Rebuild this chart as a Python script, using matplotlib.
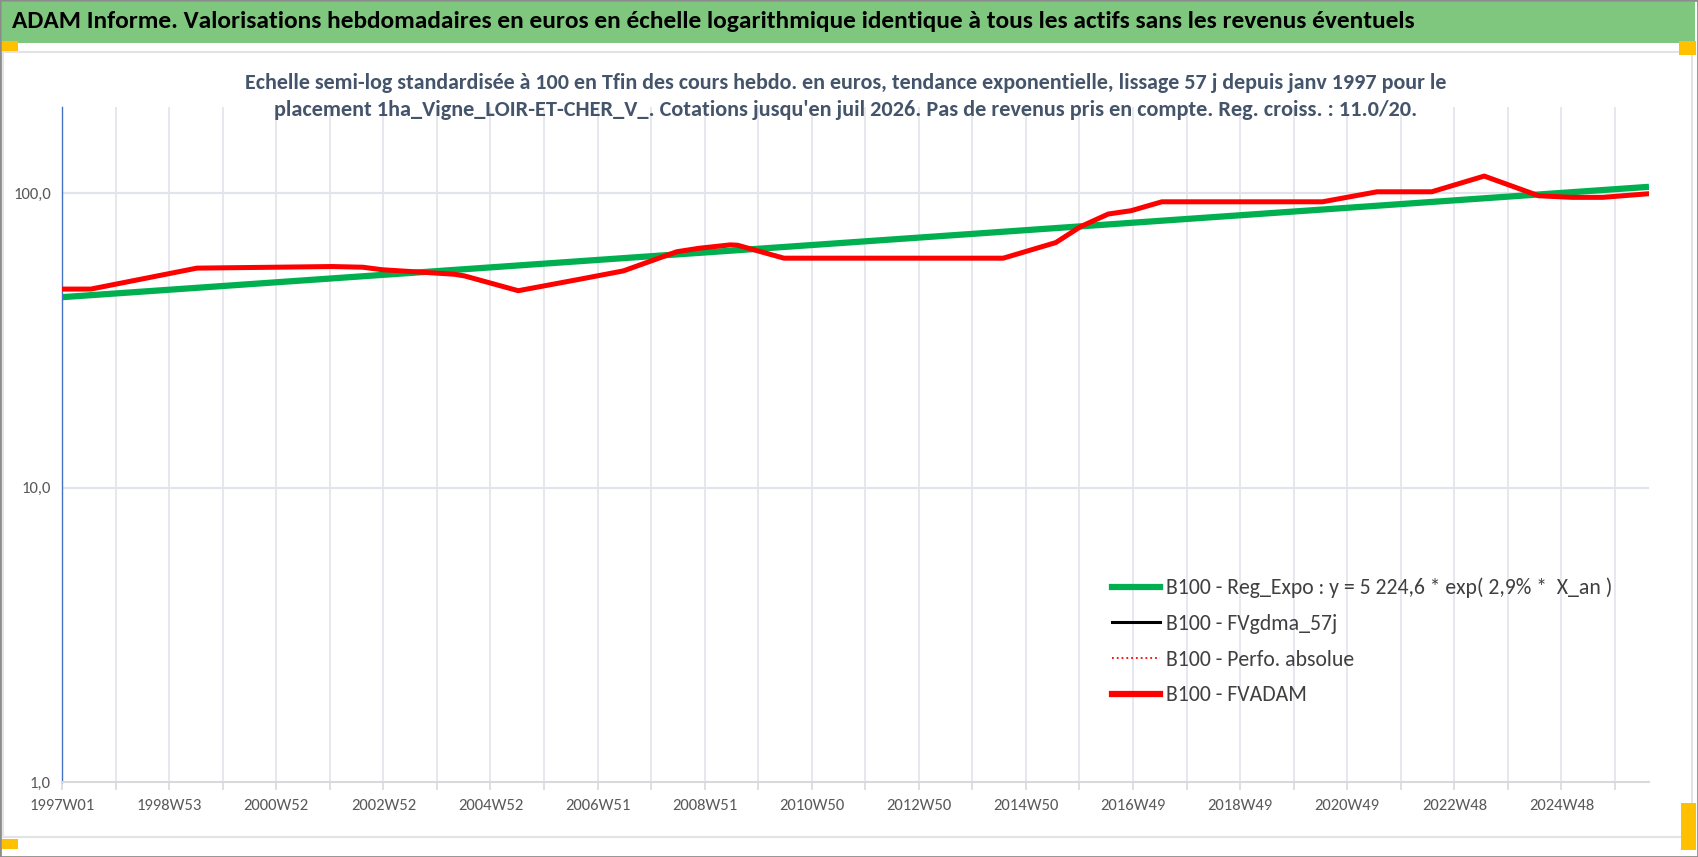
import matplotlib
matplotlib.use("Agg")
import matplotlib.pyplot as plt
from matplotlib import font_manager
from matplotlib.patches import Rectangle
from matplotlib.lines import Line2D
import numpy as np

# <---------------------------- donnees ---------------------------->
# abscisse = numero de semaine depuis 1997W01
semaines_adam = [0, 28, 131, 207, 262, 292, 311, 381, 391, 443, 503, 545, 597, 618,
                 649, 656, 701, 914, 965, 989, 1016, 1038, 1068, 1224, 1277, 1330,
                 1381, 1434, 1466, 1496, 1541]
valeurs_adam = [47.2, 47.2, 55.6, 56.0, 56.3, 56.0, 54.9, 53.0, 52.3, 46.6, 51.0, 54.4,
                63.2, 64.9, 66.7, 66.5, 60.1, 60.1, 67.9, 76.9, 84.9, 87.1, 93.4, 93.4,
                101.0, 101.0, 114.2, 97.9, 96.7, 96.7, 99.5]
semaines_reg = [0, 1541]
valeurs_reg = [44.3, 105.0]

etiquettes_x = ["1997W01", "1998W53", "2000W52", "2002W52", "2004W52", "2006W51",
                "2008W51", "2010W50", "2012W50", "2014W50", "2016W49", "2018W49",
                "2020W49", "2022W48", "2024W48"]
n_semaines = 1542

titre = ("ADAM Informe. Valorisations hebdomadaires en euros en échelle logarithmique "
         "identique à tous les actifs sans les revenus éventuels")
sous_titre_1 = ("Echelle semi-log standardisée à 100 en Tfin des cours hebdo. en euros, "
                "tendance exponentielle, lissage 57 j depuis janv 1997 pour le")
sous_titre_2 = ("placement 1ha_Vigne_LOIR-ET-CHER_V_. Cotations jusqu'en juil 2026. "
                "Pas de revenus pris en compte. Reg. croiss. : 11.0/20.")
noms_legende = ["B100 - Reg_Expo : y = 5 224,6 * exp( 2,9% *  X_an )",
                "B100 - FVgdma_57j",
                "B100 - Perfo. absolue",
                "B100 - FVADAM"]

# police proche de Calibri si presente, sinon DejaVu condensee
noms = {f.name for f in font_manager.fontManager.ttflist}
if "Carlito" in noms:
    plt.rcParams["font.family"] = ["Carlito", "DejaVu Sans"]
    k = 1.0
else:
    plt.rcParams["font.family"] = ["DejaVu Sans"]
    plt.rcParams["font.stretch"] = "condensed"
    k = 0.8

W, H = 1698, 857
fig = plt.figure(figsize=(W / 100, H / 100), dpi=100)
fig.patch.set_facecolor("white")


def fx(px):
    return px / W


def fy(py):
    return 1 - py / H


# <---------------------------- cadre, bandeau et poignees ---------------------------->
fig.patches.append(Rectangle((0, 0), 1, 1, transform=fig.transFigure,
                             fill=False, ec="#8c8c8c", lw=2))
fig.patches.append(Rectangle((fx(2), fy(43)), fx(1693), 41 / H, transform=fig.transFigure,
                             fc="#7fc77e", ec="none"))
fig.patches.append(Rectangle((fx(3), fy(837)), fx(1689), 785 / H, transform=fig.transFigure,
                             fill=False, ec="#e3e3e3", lw=1.5))
for (x0, y0, w, h) in [(2, 41, 16, 10), (1679, 41, 17, 14), (2, 839, 16, 10), (1681, 803, 15, 47)]:
    fig.patches.append(Rectangle((fx(x0), fy(y0 + h)), w / W, h / H,
                                 transform=fig.transFigure, fc="#ffc000", ec="none"))

fig.text(fx(12), fy(22), titre, fontsize=18.25 * k, fontweight="bold", color="black",
         ha="left", va="center")
fig.text(fx(846), fy(83), sous_titre_1, fontsize=15.8 * k, fontweight="bold",
         color="#44546a", ha="center", va="center")
fig.text(fx(846), fy(110), sous_titre_2, fontsize=16.0 * k, fontweight="bold",
         color="#44546a", ha="center", va="center")

# <---------------------------- zone de trace ---------------------------->
ax = fig.add_axes([fx(62), fy(782), fx(1649 - 62), (782 - 107) / H])
ax.set_yscale("log")
ax.set_ylim(1, 196)
ax.set_xlim(0, n_semaines - 1)

for x in range(0, n_semaines, 52):
    ax.axvline(x, color="#e1e4ea", lw=1.2, zorder=0)
for y in [10, 100]:
    ax.axhline(y, color="#e1e4ea", lw=1.6, zorder=0)

ax.plot(semaines_reg, valeurs_reg, color="#00b050", lw=4.5, solid_capstyle="butt", zorder=2)
ax.plot(semaines_adam, valeurs_adam, color="black", lw=1.5, zorder=3)
ax.plot(semaines_adam, valeurs_adam, color="red", lw=1.2, ls=":", zorder=3)
ax.plot(semaines_adam, valeurs_adam, color="#ff0000", lw=3.6, zorder=4,
        solid_joinstyle="round")

for s in ["top", "right"]:
    ax.spines[s].set_visible(False)
ax.spines["left"].set_color("#4472c4")
ax.spines["left"].set_linewidth(1)
ax.spines["bottom"].set_color("#d9d9d9")
ax.spines["bottom"].set_linewidth(1.5)

ax.set_yticks([1, 10, 100])
ax.set_yticklabels(["1,0", "10,0", "100,0"])
ax.yaxis.set_minor_locator(matplotlib.ticker.NullLocator())
ax.tick_params(axis="y", length=0, pad=8, labelsize=12 * k, labelcolor="#595959")

ax.set_xticks(np.arange(0, n_semaines, 52), minor=True)
ax.set_xticks(np.arange(0, 104 * len(etiquettes_x), 104))
ax.set_xticklabels(etiquettes_x)
ax.tick_params(axis="x", which="both", length=6, color="#d9d9d9", width=1.2,
               pad=6, labelsize=12 * k, labelcolor="#595959")

# <---------------------------- legende ---------------------------->
poignees = [Line2D([], [], color="#00b050", lw=4.5),
            Line2D([], [], color="black", lw=2.2),
            Line2D([], [], color="red", lw=1.3, ls=":"),
            Line2D([], [], color="#ff0000", lw=4.5)]
leg = fig.legend(poignees, noms_legende, loc="upper left",
                 bbox_to_anchor=(fx(1092), fy(558)), frameon=False,
                 fontsize=15.7 * k, labelcolor="#404040", handlelength=2.2,
                 handletextpad=0.3, labelspacing=0.72)

fig.savefig("out.png", dpi=100, facecolor="white")
